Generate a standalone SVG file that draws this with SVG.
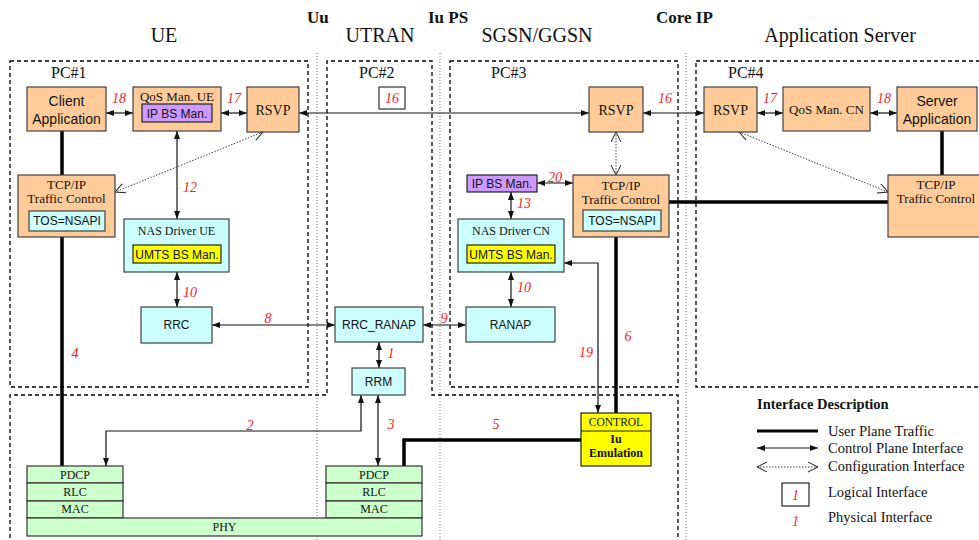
<svg xmlns="http://www.w3.org/2000/svg" width="979" height="540" viewBox="0 0 979 540">
<style>
.serif{font-family:"Liberation Serif","Times New Roman",serif;fill:#111}
.sans{font-family:"Liberation Sans",Arial,sans-serif;fill:#111}
.hdr{font-size:20px}
.bold{font-weight:bold;font-size:17px}
.pc{font-size:16px}
.lg{font-size:14.5px}
.lbl{font-family:"Liberation Serif","Times New Roman",serif;font-style:italic;font-size:14px;fill:#ff1a1a;text-anchor:middle}
.mid{text-anchor:middle}
.dash{fill:none;stroke:#000;stroke-width:1.3;stroke-dasharray:4 3}
.dot{fill:none;stroke:#777;stroke-width:1;stroke-dasharray:1 2}
.or{fill:#ffcc99;stroke:#404040;stroke-width:1.2}
.cy{fill:#ccffff;stroke:#404040;stroke-width:1.2}
.pu{fill:#cc99ff;stroke:#222;stroke-width:1.2}
.ye{fill:#ffff00;stroke:#222;stroke-width:1.2}
.gr{fill:#ccffcc;stroke:#333;stroke-width:1.2}
.ctl{fill:none;stroke:#111;stroke-width:1.2;marker-start:url(#ah);marker-end:url(#ah)}
.thick{fill:none;stroke:#000;stroke-width:3.5}
.cfg{fill:none;stroke:#444;stroke-width:1;stroke-dasharray:1.5 1.5;marker-start:url(#oh);marker-end:url(#oh)}
</style>
<defs>
<marker id="ah" markerUnits="userSpaceOnUse" markerWidth="9" markerHeight="7" refX="8" refY="3" orient="auto-start-reverse"><path d="M0,0 L8,3 L0,6 z" fill="#111"/></marker>
<marker id="oh" markerUnits="userSpaceOnUse" markerWidth="12" markerHeight="12" refX="10" refY="5" orient="auto-start-reverse"><path d="M0,0 L10,5 L0,10" fill="none" stroke="#222" stroke-width="1"/></marker>
</defs>
<rect width="979" height="540" fill="#fff"/>

<g id="regions">
<line class="dot" x1="317" y1="53" x2="317" y2="540"/>
<line class="dot" x1="440" y1="53" x2="440" y2="540"/>
<line class="dot" x1="686" y1="53" x2="686" y2="540"/>
<rect class="dash" x="10" y="61" width="298" height="326"/>
<path class="dash" d="M10,545 V395 H327 V61 H432 V395 H678 V545"/>
<rect class="dash" x="450" y="61" width="228" height="326"/>
<rect class="dash" x="696" y="61" width="300" height="326"/>
<text class="serif hdr mid" x="164" y="42">UE</text>
<text class="serif hdr mid" x="380" y="42">UTRAN</text>
<text class="serif hdr mid" x="537" y="42">SGSN/GGSN</text>
<text class="serif hdr mid" x="840" y="42">Application Server</text>
<text class="serif bold" x="307" y="23">Uu</text>
<text class="serif bold" x="428" y="23">Iu PS</text>
<text class="serif bold" x="656" y="23">Core IP</text>
<text class="serif pc" x="51" y="78">PC#1</text>
<text class="serif pc" x="359" y="78">PC#2</text>
<text class="serif pc" x="491" y="78">PC#3</text>
<text class="serif pc" x="728" y="78">PC#4</text>
</g>

<g id="connectors">
<line class="thick" x1="62" y1="131" x2="62" y2="175"/>
<line class="thick" x1="62" y1="237" x2="62" y2="466"/>
<line class="thick" x1="942" y1="131" x2="942" y2="175"/>
<line class="thick" x1="669" y1="202" x2="888" y2="202"/>
<line class="thick" x1="616" y1="237" x2="616" y2="413"/>
<path class="thick" d="M581,440 H404 V466"/>
<line class="ctl" x1="106" y1="113" x2="133" y2="113"/>
<line class="ctl" x1="221" y1="113" x2="247" y2="113"/>
<line class="ctl" x1="299" y1="113" x2="589" y2="113"/>
<line class="ctl" x1="643" y1="113" x2="704" y2="113"/>
<line class="ctl" x1="757" y1="113" x2="783" y2="113"/>
<line class="ctl" x1="870" y1="113" x2="897" y2="113"/>
<line class="ctl" x1="177" y1="131" x2="177" y2="219"/>
<line class="ctl" x1="177" y1="272" x2="177" y2="307"/>
<line class="ctl" x1="212" y1="325" x2="335" y2="325"/>
<line class="ctl" x1="423" y1="325" x2="466" y2="325"/>
<line class="ctl" x1="379" y1="342" x2="379" y2="368"/>
<line class="ctl" x1="511" y1="192" x2="511" y2="219"/>
<line class="ctl" x1="537" y1="183" x2="573" y2="183"/>
<line class="ctl" x1="511" y1="272" x2="511" y2="307"/>
<path class="ctl" d="M598,413 V263 H564"/>
<line class="ctl" x1="378" y1="395" x2="378" y2="466"/>
<path class="ctl" d="M361,395 V431 H106 V466"/>
<line class="cfg" x1="263" y1="132" x2="115" y2="192"/>
<line class="cfg" x1="616" y1="132" x2="616" y2="175"/>
<line class="cfg" x1="739" y1="132" x2="888" y2="192"/>
<text class="lbl" x="119" y="103">18</text>
<text class="lbl" x="234" y="103">17</text>
<text class="lbl" x="665" y="103">16</text>
<text class="lbl" x="770" y="103">17</text>
<text class="lbl" x="884" y="103">18</text>
<text class="lbl" x="190" y="192">12</text>
<text class="lbl" x="190" y="297">10</text>
<text class="lbl" x="268" y="323">8</text>
<text class="lbl" x="75" y="358">4</text>
<text class="lbl" x="444" y="323">9</text>
<text class="lbl" x="391" y="358">1</text>
<text class="lbl" x="524" y="208">13</text>
<text class="lbl" x="555" y="182">20</text>
<text class="lbl" x="524" y="292">10</text>
<text class="lbl" x="628" y="341">6</text>
<text class="lbl" x="586" y="357">19</text>
<text class="lbl" x="250" y="430">2</text>
<text class="lbl" x="391" y="429">3</text>
<text class="lbl" x="496" y="429">5</text>
</g>

<g id="client-app"><rect class="or" x="27" y="87" width="79" height="44"/><text class="sans mid" font-size="14" x="66.5" y="106">Client</text><text class="sans mid" font-size="14" x="66.5" y="124">Application</text></g>
<g id="qos-ue"><rect class="or" x="133" y="87" width="88" height="44"/><text class="serif mid" font-size="13" x="177" y="101">QoS Man. UE</text><rect class="pu" x="142" y="104" width="70" height="18"/><text class="sans mid" font-size="12" x="177" y="118">IP BS Man.</text></g>
<g id="rsvp-ue"><rect class="or" x="247" y="87" width="52" height="45"/><text class="serif mid" font-size="14" x="273" y="115">RSVP</text></g>
<g id="logical-16"><rect x="379" y="87" width="26" height="22" fill="#fff" stroke="#333" stroke-width="1.2"/><text class="lbl" x="392" y="103">16</text></g>
<g id="rsvp-cn"><rect class="or" x="589" y="87" width="54" height="45"/><text class="serif mid" font-size="14" x="616" y="115">RSVP</text></g>
<g id="rsvp-as"><rect class="or" x="704" y="87" width="53" height="45"/><text class="serif mid" font-size="14" x="730.5" y="115">RSVP</text></g>
<g id="qos-cn"><rect class="or" x="783" y="87" width="87" height="44"/><text class="serif mid" font-size="13" x="826.5" y="114">QoS Man. CN</text></g>
<g id="server-app"><rect class="or" x="897" y="87" width="80" height="44"/><text class="sans mid" font-size="14" x="937" y="106">Server</text><text class="sans mid" font-size="14" x="937" y="124">Application</text></g>
<g id="tcpip-ue"><rect class="or" x="18" y="175" width="97" height="62"/><text class="serif mid" font-size="13" x="66.5" y="189">TCP/IP</text><text class="serif mid" font-size="13" x="66.5" y="203">Traffic Control</text><rect class="cy" x="29" y="211" width="76" height="20"/><text class="sans mid" font-size="12" x="67" y="225">TOS=NSAPI</text></g>
<g id="ipbs-cn"><rect class="pu" x="467" y="175" width="70" height="17"/><text class="sans mid" font-size="12" x="502" y="188">IP BS Man.</text></g>
<g id="tcpip-cn"><rect class="or" x="573" y="175" width="96" height="62"/><text class="serif mid" font-size="13" x="621" y="190">TCP/IP</text><text class="serif mid" font-size="13" x="621" y="204">Traffic Control</text><rect class="cy" x="583" y="210" width="78" height="21"/><text class="sans mid" font-size="12" x="622" y="225">TOS=NSAPI</text></g>
<g id="tcpip-as"><rect class="or" x="888" y="175" width="100" height="62"/><text class="serif mid" font-size="13" x="936" y="189">TCP/IP</text><text class="serif mid" font-size="13" x="936" y="203">Traffic Control</text></g>
<g id="nas-ue"><rect class="cy" x="124" y="219" width="105" height="53"/><text class="serif mid" font-size="12" x="176.5" y="235">NAS Driver UE</text><rect class="ye" x="133" y="245" width="88" height="18"/><text class="sans mid" font-size="12" x="177" y="259">UMTS BS Man.</text></g>
<g id="nas-cn"><rect class="cy" x="458" y="219" width="106" height="53"/><text class="serif mid" font-size="12" x="511" y="235">NAS Driver CN</text><rect class="ye" x="467" y="245" width="88" height="18"/><text class="sans mid" font-size="12" x="511" y="259">UMTS BS Man.</text></g>
<g id="rrc"><rect class="cy" x="141" y="307" width="71" height="36"/><text class="sans mid" font-size="12" x="176.5" y="329">RRC</text></g>
<g id="rrc-ranap"><rect class="cy" x="335" y="307" width="88" height="35"/><text class="sans mid" font-size="12" x="379" y="329">RRC_RANAP</text></g>
<g id="ranap"><rect class="cy" x="466" y="307" width="89" height="35"/><text class="sans mid" font-size="12" x="510.5" y="329">RANAP</text></g>
<g id="rrm"><rect class="cy" x="352" y="368" width="53" height="27"/><text class="sans mid" font-size="12" x="378.5" y="386">RRM</text></g>
<g id="iu-emulation"><rect class="ye" x="581" y="413" width="70" height="53"/><line x1="581" y1="431" x2="651" y2="431" stroke="#222" stroke-width="1.2"/><text class="serif mid" font-size="11.5" x="616" y="426">CONTROL</text><text class="serif mid" font-size="12" font-weight="bold" x="616" y="443">Iu</text><text class="serif mid" font-size="12" font-weight="bold" x="616" y="457">Emulation</text></g>
<g id="stack-ue"><rect class="gr" x="27" y="466" width="96" height="17"/><rect class="gr" x="27" y="483" width="96" height="18"/><rect class="gr" x="27" y="501" width="96" height="17"/><text class="serif mid" font-size="12" x="75" y="479">PDCP</text><text class="serif mid" font-size="12" x="75" y="496">RLC</text><text class="serif mid" font-size="12" x="75" y="513">MAC</text></g>
<g id="stack-utran"><rect class="gr" x="326" y="466" width="96" height="17"/><rect class="gr" x="326" y="483" width="96" height="18"/><rect class="gr" x="326" y="501" width="96" height="17"/><text class="serif mid" font-size="12" x="374" y="479">PDCP</text><text class="serif mid" font-size="12" x="374" y="496">RLC</text><text class="serif mid" font-size="12" x="374" y="513">MAC</text></g>
<g id="phy"><rect class="gr" x="27" y="518" width="395" height="18"/><text class="serif mid" font-size="12" x="224.5" y="531">PHY</text></g>

<g id="legend">
<text class="serif lg" font-weight="bold" x="757" y="409">Interface Description</text>
<line x1="757" y1="431" x2="818" y2="431" stroke="#000" stroke-width="3"/>
<text class="serif lg" x="828" y="436">User Plane Traffic</text>
<line class="ctl" x1="757" y1="448" x2="818" y2="448"/>
<text class="serif lg" x="828" y="453">Control Plane Interface</text>
<line class="cfg" x1="757" y1="467" x2="818" y2="467"/>
<text class="serif lg" x="828" y="471">Configuration Interface</text>
<rect x="782" y="483" width="27" height="23" fill="#fff" stroke="#222" stroke-width="1.2"/>
<text class="lbl" x="795.5" y="500">1</text>
<text class="serif lg" x="828" y="497">Logical Interface</text>
<text class="lbl" x="795.5" y="526">1</text>
<text class="serif lg" x="828" y="522">Physical Interface</text>
</g>
</svg>
